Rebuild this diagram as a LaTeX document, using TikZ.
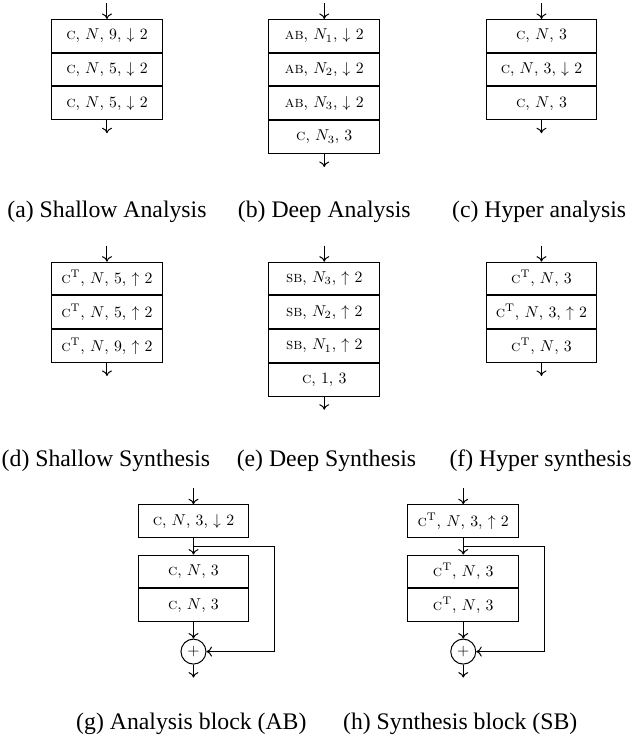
\documentclass[tikz,border=0pt]{standalone}
\usepackage{amsmath}
\usepackage{graphicx}
\usepackage{fontspec}
\newfontfamily\capfont{Liberation Serif}
\usepackage{tikz}
\usetikzlibrary{positioning,arrows.meta}

%% layer label, set at 10pt and shrunk
\newcommand{\lyr}[1]{\scalebox{0.63}{#1}}

\tikzset{
  layer/.style={draw, line width=0.4pt, minimum width=1.555cm, minimum height=13.1pt, inner sep=0pt},
  addnode/.style={draw, circle, minimum size=10pt, inner sep=0pt},
  flow/.style={-{To[width=4pt,length=2.2pt]}},
  subcap/.style={anchor=base, font=\capfont\fontsize{9.5}{11}\selectfont},
}

\begin{document}
\begin{tikzpicture}[node distance=0pt]
\useasboundingbox (0,0) rectangle (8.913,-10.376);

%% (a) shallow analysis
\node[layer, anchor=north] (a1) at (1.504,-0.267) {\lyr{\textsc{c}, $N$, 9, $\downarrow$ 2}};
\node[layer, below=of a1] (a2) {\lyr{\textsc{c}, $N$, 5, $\downarrow$ 2}};
\node[layer, below=of a2] (a3) {\lyr{\textsc{c}, $N$, 5, $\downarrow$ 2}};
\coordinate[above=0.225cm of a1] (ain);
\coordinate[below=0.183cm of a3] (aout);
\draw[flow] (ain) -- (a1);
\draw[flow] (a3) -- (aout);

%% (b) deep analysis
\node[layer, anchor=north] (b1) at (4.559,-0.267) {\lyr{\textsc{ab}, $N_1$, $\downarrow$ 2}};
\node[layer, below=of b1] (b2) {\lyr{\textsc{ab}, $N_2$, $\downarrow$ 2}};
\node[layer, below=of b2] (b3) {\lyr{\textsc{ab}, $N_3$, $\downarrow$ 2}};
\node[layer, below=of b3] (b4) {\lyr{\textsc{c}, $N_3$, 3}};
\coordinate[above=0.225cm of b1] (bin);
\coordinate[below=0.183cm of b4] (bout);
\draw[flow] (bin) -- (b1);
\draw[flow] (b4) -- (bout);

%% (c) hyper analysis
\node[layer, anchor=north] (c1) at (7.613,-0.267) {\lyr{\textsc{c}, $N$, 3}};
\node[layer, below=of c1] (c2) {\lyr{\textsc{c}, $N$, 3, $\downarrow$ 2}};
\node[layer, below=of c2] (c3) {\lyr{\textsc{c}, $N$, 3}};
\coordinate[above=0.225cm of c1] (cin);
\coordinate[below=0.183cm of c3] (cout);
\draw[flow] (cin) -- (c1);
\draw[flow] (c3) -- (cout);

%% (d) shallow synthesis
\node[layer, anchor=north] (d1) at (1.504,-3.679) {\lyr{\textsc{c}$^\mathrm{T}$, $N$, 5, $\uparrow$ 2}};
\node[layer, below=of d1] (d2) {\lyr{\textsc{c}$^\mathrm{T}$, $N$, 5, $\uparrow$ 2}};
\node[layer, below=of d2] (d3) {\lyr{\textsc{c}$^\mathrm{T}$, $N$, 9, $\uparrow$ 2}};
\coordinate[above=0.225cm of d1] (din);
\coordinate[below=0.183cm of d3] (dout);
\draw[flow] (din) -- (d1);
\draw[flow] (d3) -- (dout);

%% (e) deep synthesis
\node[layer, anchor=north] (e1) at (4.559,-3.679) {\lyr{\textsc{sb}, $N_3$, $\uparrow$ 2}};
\node[layer, below=of e1] (e2) {\lyr{\textsc{sb}, $N_2$, $\uparrow$ 2}};
\node[layer, below=of e2] (e3) {\lyr{\textsc{sb}, $N_1$, $\uparrow$ 2}};
\node[layer, below=of e3] (e4) {\lyr{\textsc{c}, 1, 3}};
\coordinate[above=0.225cm of e1] (ein);
\coordinate[below=0.183cm of e4] (eout);
\draw[flow] (ein) -- (e1);
\draw[flow] (e4) -- (eout);

%% (f) hyper synthesis
\node[layer, anchor=north] (f1) at (7.613,-3.679) {\lyr{\textsc{c}$^\mathrm{T}$, $N$, 3}};
\node[layer, below=of f1] (f2) {\lyr{\textsc{c}$^\mathrm{T}$, $N$, 3, $\uparrow$ 2}};
\node[layer, below=of f2] (f3) {\lyr{\textsc{c}$^\mathrm{T}$, $N$, 3}};
\coordinate[above=0.225cm of f1] (fin);
\coordinate[below=0.183cm of f3] (fout);
\draw[flow] (fin) -- (f1);
\draw[flow] (f3) -- (fout);

%% (g) analysis block
\node[layer, anchor=north] (g0) at (2.720,-7.090) {\lyr{\textsc{c}, $N$, 3, $\downarrow$ 2}};
\node[layer, below=0.233cm of g0] (g1) {\lyr{\textsc{c}, $N$, 3}};
\node[layer, below=of g1] (g2) {\lyr{\textsc{c}, $N$, 3}};
\node[addnode, below=0.232cm of g2] (gadd) {\lyr{$+$}};
\coordinate[above=0.225cm of g0] (gin);
\coordinate[below=0.117cm of g0] (gsplit);
\coordinate[below=0.183cm of gadd] (gout);
\draw[flow] (gin) -- (g0);
\draw[flow] (g0) -- (g1);
\draw[flow] (g2) -- (gadd);
\draw[flow] (gsplit) -- ++(1.139,0) |- (gadd);   %% skip
\draw[flow] (gadd) -- (gout);

%% (h) synthesis block
\node[layer, anchor=north] (h0) at (6.513,-7.090) {\lyr{\textsc{c}$^\mathrm{T}$, $N$, 3, $\uparrow$ 2}};
\node[layer, below=0.233cm of h0] (h1) {\lyr{\textsc{c}$^\mathrm{T}$, $N$, 3}};
\node[layer, below=of h1] (h2) {\lyr{\textsc{c}$^\mathrm{T}$, $N$, 3}};
\node[addnode, below=0.232cm of h2] (hadd) {\lyr{$+$}};
\coordinate[above=0.225cm of h0] (hin);
\coordinate[below=0.117cm of h0] (hsplit);
\coordinate[below=0.183cm of hadd] (hout);
\draw[flow] (hin) -- (h0);
\draw[flow] (h0) -- (h1);
\draw[flow] (h2) -- (hadd);
\draw[flow] (hsplit) -- ++(1.139,0) |- (hadd);   %% skip
\draw[flow] (hadd) -- (hout);

%% captions
\node[subcap] (capa) at (1.504,-3.051) {(a) Shallow Analysis};
\node[subcap] (capb) at (4.559,-3.051) {(b) Deep Analysis};
\node[subcap] (capc) at (7.580,-3.051) {(c) Hyper analysis};
\node[subcap] (capd) at (1.490,-6.558) {(d) Shallow Synthesis};
\node[subcap] (cape) at (4.590,-6.558) {(e) Deep Synthesis};
\node[subcap] (capf) at (7.600,-6.558) {(f) Hyper synthesis};
\node[subcap] (capg) at (2.690,-10.263) {(g) Analysis block (AB)};
\node[subcap] (caph) at (6.470,-10.263) {(h) Synthesis block (SB)};
\end{tikzpicture}
\end{document}
